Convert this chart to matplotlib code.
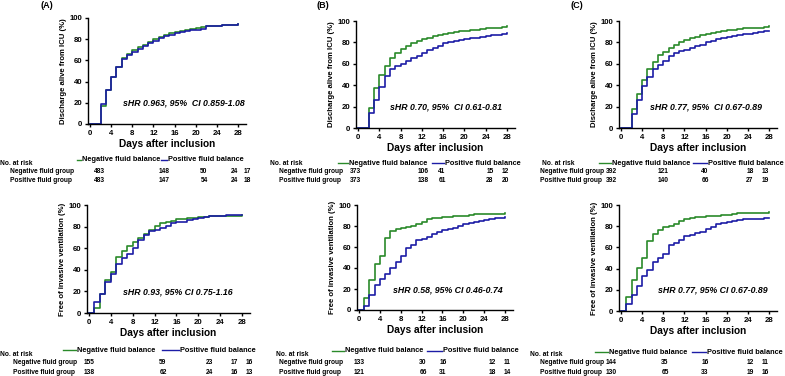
import matplotlib
matplotlib.use("Agg")
import matplotlib.pyplot as plt
from matplotlib.lines import Line2D

plt.rcParams['font.family'] = ['Liberation Sans', 'DejaVu Sans']
plt.rcParams['font.weight'] = 'bold'

# ---- data ----
days = list(range(0, 29))

# (A) discharge alive from ICU
a_dis_neg = [0, 0, 17, 32, 44, 54, 62, 66, 70, 73, 75, 77, 80, 82, 84, 86, 87, 88, 89, 90, 91, 91.5, 92, 92, 92.5, 93, 93, 93.5, 94]
a_dis_pos = [0, 0, 19, 32, 44, 54, 61, 65, 68, 71, 74, 76, 78, 81, 83, 84, 86, 87, 88, 88.5, 89, 90, 92, 92, 92.5, 93, 93, 93.5, 94]
# (A) free of invasive ventilation
a_iv_neg = [0, 5, 18, 31, 38, 52, 57, 62, 66, 69, 73, 77, 81, 83, 84, 85, 87, 87, 87.5, 88, 88.5, 89, 89.5, 89.5, 89.5, 90, 90, 90, 91]
a_iv_pos = [0, 10, 18, 29, 36, 45, 51, 55, 60, 68, 72, 76, 77, 79, 81, 83, 84, 84, 86, 87, 88, 89, 90, 90, 90, 90.5, 90.5, 90.5, 91]

# (B)
b_dis_neg = [0, 0, 19, 37, 50, 58, 65, 70, 74, 77, 79, 81, 83, 84.5, 86, 87, 88, 89, 90, 90.5, 91, 91.5, 92, 92.5, 93, 93.5, 93.5, 94, 95]
b_dis_pos = [0, 0, 14, 26, 38, 49, 55, 58, 60, 63, 65, 67, 70, 73, 75, 77, 79, 80, 81, 82, 83, 84, 84.5, 85, 86, 86.5, 87, 87.5, 88.5]
b_iv_neg = [0, 11, 29, 44, 51, 69, 75, 77, 78, 79, 80, 82, 84, 87, 87.5, 88, 89, 89, 89.5, 90, 90, 90.5, 91, 91, 91.5, 91.5, 91.5, 91.5, 92]
b_iv_pos = [0, 4, 14, 24, 30, 34, 40, 46, 51, 59, 62, 67, 68, 70, 72, 74, 76, 77, 78, 80, 82, 83, 84, 85, 86, 87, 87.5, 88, 89]

# (C)
c_dis_neg = [0, 0, 18, 32, 45, 55, 62, 68, 71, 75, 78, 80, 82, 84, 85.5, 87, 88, 89, 90, 91, 91.5, 92, 92.5, 93, 93, 93.5, 93.5, 94, 95]
c_dis_pos = [0, 0, 13, 26, 39, 48, 55, 59, 63, 67, 70, 72, 73, 75, 76.5, 78, 80, 81, 83, 84, 85, 86, 87, 87.5, 88, 89, 90, 90.5, 91]
c_iv_neg = [0, 13, 29, 41, 50, 66, 73, 76, 79, 80, 82, 85, 87, 88, 89, 89, 89.5, 90, 90, 90.5, 91, 91.5, 92, 92, 92, 92, 92, 92.5, 93]
c_iv_pos = [0, 7, 15, 24, 33, 39, 46, 50, 54, 62, 64, 67, 71, 72, 74, 74.5, 77, 79, 82, 83, 84, 85, 86, 86.5, 86.5, 87, 87, 87.5, 88]

# numbers at risk
a_dis_risk_neg = ["483", "148", "50", "24", "17"]
a_dis_risk_pos = ["483", "147", "54", "24", "18"]
a_iv_risk_neg = ["155", "59", "23", "17", "16"]
a_iv_risk_pos = ["138", "62", "24", "16", "13"]
b_dis_risk_neg = ["373", "106", "41", "15", "12"]
b_dis_risk_pos = ["373", "138", "61", "28", "20"]
b_iv_risk_neg = ["133", "30", "16", "12", "11"]
b_iv_risk_pos = ["121", "66", "31", "18", "14"]
c_dis_risk_neg = ["392", "121", "40", "18", "13"]
c_dis_risk_pos = ["392", "140", "66", "27", "19"]
c_iv_risk_neg = ["144", "35", "16", "12", "11"]
c_iv_risk_pos = ["130", "65", "33", "19", "16"]

hr_texts = ["sHR 0.963, 95%  CI 0.859-1.08", "sHR 0.93, 95% CI 0.75-1.16",
            "sHR 0.70, 95%  CI 0.61-0.81", "sHR 0.58, 95% CI 0.46-0.74",
            "sHR 0.77, 95%  CI 0.67-0.89", "sHR 0.77, 95% CI 0.67-0.89"]
ylabels = ["Discharge alive from ICU (%)", "Free of invasive ventilation (%)"]

GREEN = "#2a8a2a"
BLUE = "#1c1ca6"
W, H = 785, 376

fig = plt.figure(figsize=(7.85, 3.76), dpi=100)


def fx(x):
    return x / W


def fy(y):
    return 1 - y / H


# layout: day0 px, day28 px, y0 px, y100 px, hr text x (data), legend positions, table positions
panels = [
    dict(neg=a_dis_neg, pos=a_dis_pos, rn=a_dis_risk_neg, rp=a_dis_risk_pos, hr=hr_texts[0], yl=ylabels[0],
         x0=90, x28=238, y0=124, y100=18, hx=6.2,
         leg=(77, 82, 161, 168, 160),
         tab=(0, 163, 10, 172, 180), cols=[99, 164, 204, 234, 247]),
    dict(neg=a_iv_neg, pos=a_iv_pos, rn=a_iv_risk_neg, rp=a_iv_risk_pos, hr=hr_texts[1], yl=ylabels[1],
         x0=89, x28=242, y0=313, y100=205, hx=6.2,
         leg=(63, 77, 162, 180, 350),
         tab=(0, 355, 13, 363, 372), cols=[89, 163, 209, 234, 249]),
    dict(neg=b_dis_neg, pos=b_dis_pos, rn=b_dis_risk_neg, rp=b_dis_risk_pos, hr=hr_texts[2], yl=ylabels[0],
         x0=358, x28=507, y0=128, y100=21, hx=6.0,
         leg=(338, 349, 432, 445, 163),
         tab=(270, 163, 279, 172, 180), cols=[355, 423, 442, 490, 505]),
    dict(neg=b_iv_neg, pos=b_iv_pos, rn=b_iv_risk_neg, rp=b_iv_risk_pos, hr=hr_texts[3], yl=ylabels[1],
         x0=359, x28=505, y0=310, y100=205, hx=6.5,
         leg=(332, 345, 427, 443, 351),
         tab=(276, 355, 279, 363, 372), cols=[359, 423, 443, 492, 507]),
    dict(neg=c_dis_neg, pos=c_dis_pos, rn=c_dis_risk_neg, rp=c_dis_risk_pos, hr=hr_texts[4], yl=ylabels[0],
         x0=621, x28=769, y0=128, y100=21, hx=5.5,
         leg=(599, 612, 693, 708, 163),
         tab=(542, 163, 540, 172, 180), cols=[611, 663, 705, 750, 765]),
    dict(neg=c_iv_neg, pos=c_iv_pos, rn=c_iv_risk_neg, rp=c_iv_risk_pos, hr=hr_texts[5], yl=ylabels[1],
         x0=621, x28=769, y0=311, y100=205, hx=7.0,
         leg=(595, 609, 692, 707, 352),
         tab=(530, 355, 540, 363, 372), cols=[611, 665, 705, 750, 765]),
]

XMIN, XMAX = -0.4, 29.5

for p in panels:
    s = (p["x28"] - p["x0"]) / 28
    left = p["x0"] + XMIN * s
    right = p["x0"] + XMAX * s
    ax = fig.add_axes([fx(left), fy(p["y0"]), (right - left) / W, (p["y0"] - p["y100"]) / H])
    ax.step(days, p["neg"], where="post", color=GREEN, lw=1.2, clip_on=False)
    ax.step(days, p["pos"], where="post", color=BLUE, lw=1.2, clip_on=False)
    ax.set_xlim(XMIN, XMAX)
    ax.set_ylim(0, 100)
    ax.set_xticks(range(0, 29, 4))
    ax.set_yticks(range(0, 101, 20))
    ax.tick_params(direction="out", length=2.5, width=1.0, labelsize=5.6, pad=1.5)
    for lab in ax.get_xticklabels() + ax.get_yticklabels():
        lab.set_fontweight("bold")
    for side in ["top", "right"]:
        ax.spines[side].set_visible(False)
    for side in ["left", "bottom"]:
        ax.spines[side].set_linewidth(1.0)
    ax.set_xlabel("Days after inclusion", fontsize=7.3, fontweight="bold", labelpad=2)
    ax.set_ylabel(p["yl"], fontsize=5.6, fontweight="bold", labelpad=2)
    ax.text(p["hx"], 19.5, p["hr"], fontsize=6.3, fontweight="bold", fontstyle="italic",
            ha="left", va="center")

    # legend
    g0, gt, b0, bt, ly = p["leg"]
    fig.add_artist(Line2D([fx(g0), fx(gt - 1.5)], [fy(ly), fy(ly)], color=GREEN, lw=1.0))
    fig.text(fx(gt), fy(ly), "Negative fluid balance", fontsize=5.3, fontweight="bold", va="center")
    fig.add_artist(Line2D([fx(b0), fx(bt - 1.5)], [fy(ly), fy(ly)], color=BLUE, lw=1.0))
    fig.text(fx(bt), fy(ly), "Positive fluid balance", fontsize=5.3, fontweight="bold", va="center")

    # number at risk table
    nx, ny, gx, rny, rpy = p["tab"]
    fig.text(fx(nx), fy(ny), "No. at risk", fontsize=4.8, fontweight="bold", va="center")
    fig.text(fx(gx), fy(rny), "Negative fluid group", fontsize=4.8, fontweight="bold", va="center")
    fig.text(fx(gx), fy(rpy), "Positive fluid group", fontsize=4.8, fontweight="bold", va="center")
    for cx, vn, vp in zip(p["cols"], p["rn"], p["rp"]):
        fig.text(fx(cx), fy(rny), vn, fontsize=4.8, fontweight="bold", va="center", ha="center")
        fig.text(fx(cx), fy(rpy), vp, fontsize=4.8, fontweight="bold", va="center", ha="center")

for lab, x in zip(["(A)", "(B)", "(C)"], [47, 323, 577]):
    fig.text(fx(x), fy(6), lab, fontsize=6.5, fontweight="bold", ha="center", va="center")

fig.savefig("out.png", dpi=100)
